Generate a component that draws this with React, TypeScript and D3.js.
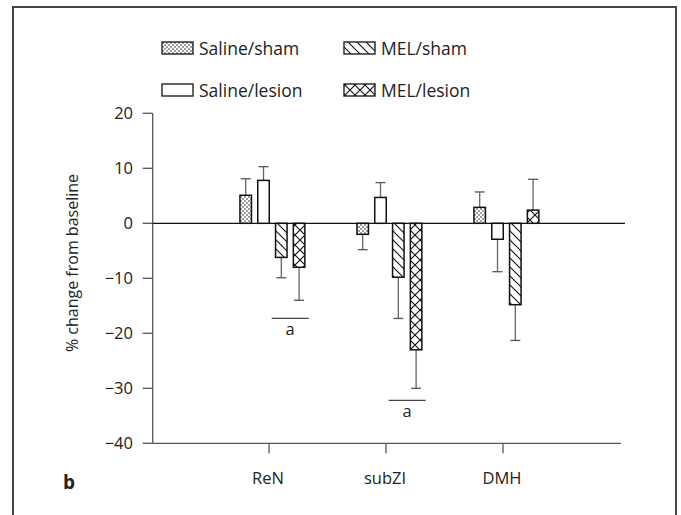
import React from 'react';
import * as d3 from 'd3';

const categories = ['ReN', 'subZI', 'DMH'];
const seriesNames = ['Saline/sham', 'Saline/lesion', 'MEL/sham', 'MEL/lesion'];
const salineSham = [5.1, -2.0, 2.9];
const salineShamErr = [8.1, -4.8, 5.7];
const salineLesion = [7.8, 4.7, -2.9];
const salineLesionErr = [10.3, 7.4, -8.8];
const melSham = [-6.2, -9.8, -14.8];
const melShamErr = [-9.9, -17.3, -21.3];
const melLesion = [-8.0, -23.0, 2.4];
const melLesionErr = [-14.0, -30.0, 8.0];
const yTicks = [20, 10, 0, -10, -20, -30, -40];
const sigCategories = ['ReN', 'subZI'];
const sigLevels = [-17.3, -32.2];
const sigLabels = ['a', 'a'];

const seriesValues = [salineSham, salineLesion, melSham, melLesion];
const seriesErrors = [salineShamErr, salineLesionErr, melShamErr, melLesionErr];
const fills = ['url(#dots)', '#fff', 'url(#diag)', 'url(#cross)'];

const FONT = '"Open Sans", "Noto Sans", sans-serif';

export default function App() {
  const y = d3.scaleLinear().domain([-40, 20]).range([443.3, 113.3]);
  const x = d3.scalePoint<string>().domain(categories).range([152, 620]).padding(1);
  const inner = d3.scaleBand<string>().domain(seriesNames).range([-32.2, 39]).paddingInner(0.354).paddingOuter(0.177);
  const bw = inner.bandwidth();
  const axisColor = '#555';
  const x0 = 152.7;
  const yBottom = y(-40);
  const yTop = y(20);

  return (
    <svg width={681} height={515} style={{ position: 'absolute', left: 0, top: 0 }} fontFamily={FONT}>
      <defs>
        <pattern id="dots" patternUnits="userSpaceOnUse" width={4} height={4}>
          <rect width={4} height={4} fill="#fff" />
          <circle cx={1} cy={1} r={0.8} fill="#222" />
          <circle cx={3} cy={3} r={0.8} fill="#222" />
        </pattern>
        <pattern id="diag" patternUnits="userSpaceOnUse" width={9} height={9}>
          <rect width={9} height={9} fill="#fff" />
          <path d="M0,0 L9,9 M-1,8 L1,10 M8,-1 L10,1" stroke="#111" strokeWidth={1.1} />
        </pattern>
        <pattern id="cross" patternUnits="userSpaceOnUse" width={10} height={10}>
          <rect width={10} height={10} fill="#fff" />
          <path d="M0,0 L10,10 M10,0 L0,10" stroke="#111" strokeWidth={1.1} />
        </pattern>
      </defs>
      <rect x={0} y={0} width={681} height={515} fill="#fff" />
      {/* frame */}
      <path d={`M13,520 L13,7 L676,7 L676,520`} fill="none" stroke="#444" strokeWidth={2} />

      {/* legend */}
      {seriesNames.map((s, i) => {
        const col = i >= 2 ? 1 : 0;
        const row = i % 2;
        const sx = col === 0 ? 162 : 344;
        const sy = row === 0 ? 42 : 84;
        return (
          <g key={s}>
            <rect x={sx} y={sy} width={31} height={12} fill={fills[i]} stroke="#222" strokeWidth={1.4} />
            <text x={sx + 37} y={sy + 12.5} fontSize={17.5} fill="#222">{s}</text>
          </g>
        );
      })}

      {/* y axis */}
      <line x1={x0} x2={x0} y1={yTop} y2={yBottom} stroke={axisColor} strokeWidth={1.3} />
      {yTicks.map((t) => (
        <g key={t}>
          <line x1={x0 - 10} x2={x0} y1={y(t)} y2={y(t)} stroke={axisColor} strokeWidth={1.3} />
          <text x={133} y={y(t)} dy="0.35em" textAnchor="end" fontSize={16.5} fill="#222">
            {t < 0 ? '\u2212' + Math.abs(t) : String(t)}
          </text>
        </g>
      ))}
      <text transform={`translate(78,263) rotate(-90)`} textAnchor="middle" fontSize={16} fill="#222">
        % change from baseline
      </text>

      {/* x axis */}
      <line x1={x0} x2={621} y1={yBottom} y2={yBottom} stroke={axisColor} strokeWidth={1.3} />
      {categories.map((c) => (
        <g key={c}>
          <line x1={x(c)!} x2={x(c)!} y1={yBottom} y2={yBottom + 10} stroke={axisColor} strokeWidth={1.3} />
          <text x={x(c)! - 1} y={yBottom + 41} textAnchor="middle" fontSize={16.5} fill="#222">{c}</text>
        </g>
      ))}

      {/* error bars */}
      {seriesNames.map((s, si) =>
        categories.map((c, ci) => {
          const cx = x(c)! + inner(s)! + bw / 2;
          const v = seriesValues[si][ci];
          const e = seriesErrors[si][ci];
          return (
            <g key={s + c + 'e'}>
              <line x1={cx} x2={cx} y1={y(v)} y2={y(e)} stroke="#666" strokeWidth={1.3} />
              <line x1={cx - 5} x2={cx + 5} y1={y(e)} y2={y(e)} stroke="#555" strokeWidth={1.3} />
            </g>
          );
        })
      )}

      {/* zero line */}
      <line x1={x0} x2={625} y1={y(0)} y2={y(0)} stroke="#111" strokeWidth={1.3} />

      {/* bars */}
      {seriesNames.map((s, si) =>
        categories.map((c, ci) => {
          const v = seriesValues[si][ci];
          const bx = x(c)! + inner(s)!;
          return (
            <rect key={s + c} x={bx} y={Math.min(y(v), y(0))} width={bw} height={Math.abs(y(v) - y(0))}
              fill={fills[si]} stroke="#111" strokeWidth={1.5} />
          );
        })
      )}

      {/* significance */}
      {sigCategories.map((c, i) => {
        const cx = x(c)! + (inner('MEL/sham')! + inner('MEL/lesion')! + bw) / 2;
        return (
          <g key={'sig' + c}>
            <line x1={cx - 18.5} x2={cx + 18.5} y1={y(sigLevels[i])} y2={y(sigLevels[i])} stroke="#444" strokeWidth={1.3} />
            <text x={cx} y={y(sigLevels[i]) + 17} textAnchor="middle" fontSize={16.5} fill="#222">{sigLabels[i]}</text>
          </g>
        );
      })}

      <text x={63} y={489} fontSize={19} fontWeight="bold" fill="#222">b</text>
    </svg>
  );
}
